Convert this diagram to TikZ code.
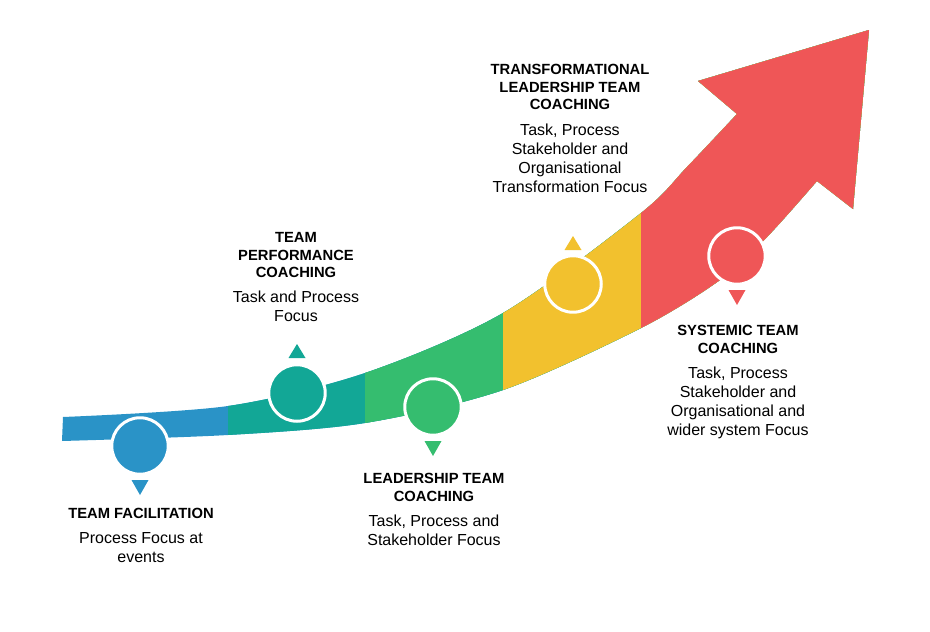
\documentclass[tikz,border=0pt]{standalone}
\usepackage{fontspec}
\setmainfont{Liberation Sans}
\usetikzlibrary{positioning}
\definecolor{cblue}{RGB}{42,147,199}
\definecolor{cteal}{RGB}{18,167,150}
\definecolor{cgreen}{RGB}{53,189,111}
\definecolor{cyellow}{RGB}{242,193,46}
\definecolor{cred}{RGB}{239,86,87}
\tikzset{
 stage/.style
  = {circle, draw=white, line width=0.06cm, minimum size=1.13cm, inner sep=0pt},
 head/.style
  = {font=\fontsize{8.4}{9.96}\selectfont\bfseries, align=center, inner sep=0pt, anchor=north},
 note/.style
  = {font=\fontsize{9.1}{10.8}\selectfont, align=center, inner sep=0pt},
}
\begin{document}
\begin{tikzpicture}[x=0.02cm, y=-0.02cm]
\useasboundingbox (0,0) rectangle (930,632);

% Rising arrow band
\def\band{plot[smooth] coordinates {(62,441) (228,435) (365,423) (503,390) (641,328) (720,280) (767,237) (817,181)}
  -- (853,209) -- (869,30) -- (698,81)
  -- plot[smooth] coordinates {(737,114) (687,167) (641,213) (503,313) (365,373) (228,406) (63,417)} -- cycle}
\fill[cblue] \band;
\begin{scope}
\clip (228,0) rectangle (930,632);
\fill[cteal] \band;
\end{scope}
\begin{scope}
\clip (365,0) rectangle (930,632);
\fill[cgreen] \band;
\end{scope}
\begin{scope}
\clip (503,0) rectangle (930,632);
\fill[cyellow] \band;
\end{scope}
\begin{scope}
\clip (641,0) rectangle (930,632);
\fill[cred] \band;
\end{scope}

% Stage circles
\node[stage, fill=cblue] (fac) at (140,446) {};
\node[stage, fill=cteal] (perf) at (297,393) {};
\node[stage, fill=cgreen] (lead) at (433,407) {};
\node[stage, fill=cyellow] (trans) at (573,284) {};
\node[stage, fill=cred] (sys) at (737,256) {};

% Markers
\fill[cblue] ([shift={(-8.5,34)}]fac.center) -- ++(17,0) -- ++(-8.5,15) -- cycle;
\fill[cteal] ([shift={(-8.5,-35)}]perf.center) -- ++(17,0) -- ++(-8.5,-14) -- cycle;
\fill[cgreen] ([shift={(-8.5,34)}]lead.center) -- ++(17,0) -- ++(-8.5,15) -- cycle;
\fill[cyellow] ([shift={(-8.5,-34)}]trans.center) -- ++(17,0) -- ++(-8.5,-14) -- cycle;
\fill[cred] ([shift={(-8.5,34)}]sys.center) -- ++(17,0) -- ++(-8.5,15) -- cycle;

% Labels
\node[head] (facT) at (141,508) {TEAM FACILITATION};
\node[note, below=0.26cm of facT] (facN) {Process Focus at\\events};

\node[head] (perfT) at (296,232) {TEAM\\PERFORMANCE\\COACHING};
\node[note, below=0.26cm of perfT] (perfN) {Task and Process\\Focus};

\node[head] (leadT) at (434,473) {LEADERSHIP TEAM\\COACHING};
\node[note, below=0.26cm of leadT] (leadN) {Task, Process and\\Stakeholder Focus};

\node[head] (transT) at (570,64) {TRANSFORMATIONAL\\LEADERSHIP TEAM\\COACHING};
\node[note, below=0.26cm of transT] (transN) {Task, Process\\Stakeholder and\\Organisational\\Transformation Focus};

\node[head] (sysT) at (738,325) {SYSTEMIC TEAM\\COACHING};
\node[note, below=0.26cm of sysT] (sysN) {Task, Process\\Stakeholder and\\Organisational and\\wider system Focus};

\end{tikzpicture}
\end{document}
